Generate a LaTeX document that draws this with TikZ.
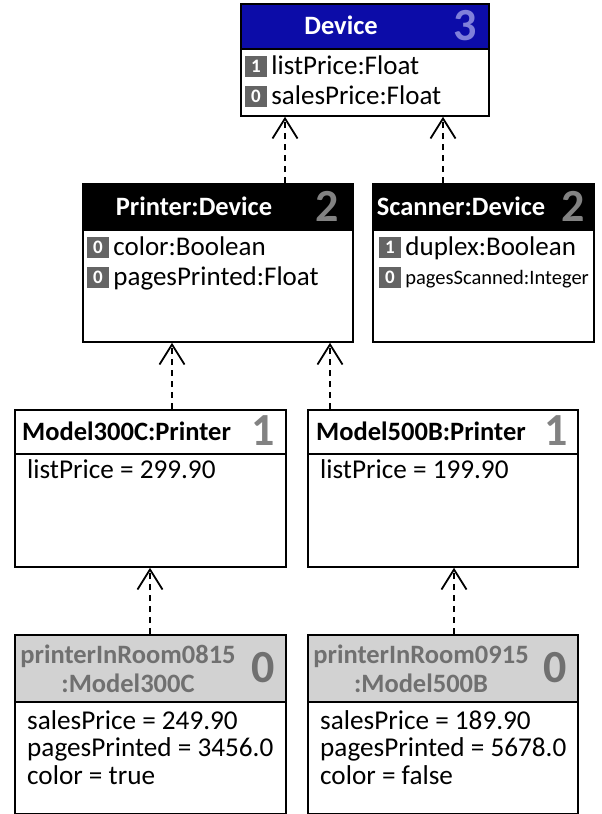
\documentclass[tikz,border=0pt]{standalone}
\usepackage{fontspec}
\setmainfont{Carlito}
\usetikzlibrary{arrows.meta,positioning}

\definecolor{devblue}{RGB}{12,12,168}
\definecolor{devlevel}{RGB}{128,128,218}
\definecolor{lvlgray}{RGB}{130,130,130}
\definecolor{instfill}{RGB}{210,210,210}
\definecolor{insttext}{RGB}{112,112,112}
\definecolor{badgegray}{RGB}{100,100,100}

\newcommand{\rowfont}{\fontsize{27}{29}\selectfont}
\newcommand{\valfont}{\fontsize{27.2}{29}\selectfont}
\newcommand{\lvlfont}{\fontsize{46}{46}\selectfont\bfseries}

\begin{document}
\begin{tikzpicture}[x=1pt,y=-1pt,
	box/.style={draw,line width=1.8pt,anchor=north west,inner sep=0pt},
	title/.style={font=\fontsize{26.5}{29}\selectfont\bfseries,inner sep=0pt,align=center},
	level/.style={font=\lvlfont,inner sep=0pt},
	badge/.style={fill=badgegray,text=white,font=\fontsize{19}{19}\selectfont\bfseries,
		minimum width=22pt,minimum height=21pt,inner sep=0pt},
	row/.style={font=\rowfont,inner sep=0pt,anchor=west,text height=19pt,text depth=3pt},
	val/.style={font=\valfont,inner sep=0pt,anchor=west,text height=19pt,text depth=3pt},
	realize/.style={line width=1.8pt,dash pattern=on 6pt off 5pt,
		-{Straight Barb[length=20pt,width=25pt]}}]
	\useasboundingbox (0,0) rectangle (602,814);

	% Device
	\node[box,fill=devblue,minimum width=248pt,minimum height=45pt] (devH) at (240,3) {};
	\node[box,minimum width=248pt,minimum height=67pt] (devB) at (240,48) {};
	\node[title,text=white] (devT) at (341,25.5) {Device};
	\node[level,text=devlevel] (devN) at (465,25.5) {3};
	\node[badge] (devA1) at (256,66) {1};
	\node[row,right=4pt of devA1] (devR1) {listPrice:Float};
	\node[badge] (devA2) at (256,96) {0};
	\node[row,right=4pt of devA2] (devR2) {salesPrice:Float};

	% Printer
	\node[box,fill=black,minimum width=270pt,minimum height=46pt] (prnH) at (82,183) {};
	\node[box,minimum width=270pt,minimum height=112pt] (prnB) at (82,229) {};
	\node[title,text=white] (prnT) at (194,206) {Printer:Device};
	\node[level,text=lvlgray] (prnN) at (327,206) {2};
	\node[badge] (prnA1) at (98,247) {0};
	\node[row,right=4pt of prnA1] (prnR1) {color:Boolean};
	\node[badge] (prnA2) at (98,277) {0};
	\node[row,right=4pt of prnA2] (prnR2) {pagesPrinted:Float};

	% Scanner
	\node[box,fill=black,minimum width=221pt,minimum height=46pt] (scnH) at (372,183) {};
	\node[box,minimum width=221pt,minimum height=112pt] (scnB) at (372,229) {};
	\node[title,text=white] (scnT) at (461,206) {Scanner:Device};
	\node[level,text=lvlgray] (scnN) at (573,206) {2};
	\node[badge] (scnA1) at (390,247) {1};
	\node[row,right=4pt of scnA1] (scnR1) {duplex:Boolean};
	\node[badge] (scnA2) at (390,277) {0};
	\node[row,right=4pt of scnA2,font=\fontsize{20.5}{24}\selectfont,text height=16pt,text depth=2pt] (scnR2) {pagesScanned:Integer};

	% Model300C
	\node[box,minimum width=271pt,minimum height=44pt] (m300H) at (14,409) {};
	\node[box,minimum width=271pt,minimum height=113pt] (m300B) at (14,453) {};
	\node[title,anchor=west] (m300T) at (22,431) {Model300C:Printer};
	\node[level,text=lvlgray] (m300N) at (263,431) {1};
	\node[val] (m300R1) at (27,470) {listPrice = 299.90};

	% Model500B
	\node[box,minimum width=270pt,minimum height=44pt] (m500H) at (307,409) {};
	\node[box,minimum width=270pt,minimum height=113pt] (m500B) at (307,453) {};
	\node[title,anchor=west] (m500T) at (316,431) {Model500B:Printer};
	\node[level,text=lvlgray] (m500N) at (556,431) {1};
	\node[val] (m500R1) at (320,470) {listPrice = 199.90};

	% printerInRoom0815
	\node[box,fill=instfill,minimum width=271pt,minimum height=67pt] (i815H) at (14,634) {};
	\node[box,minimum width=271pt,minimum height=112pt] (i815B) at (14,701) {};
	\node[title,text=insttext] (i815T) at (128,669) {printerInRoom0815\\:Model300C};
	\node[level,text=insttext] (i815N) at (263,668) {0};
	\node[val] (i815R1) at (27,721) {salesPrice = 249.90};
	\node[val] (i815R2) at (27,748) {pagesPrinted = 3456.0};
	\node[val] (i815R3) at (27,776) {color = true};

	% printerInRoom0915
	\node[box,fill=instfill,minimum width=270pt,minimum height=67pt] (i915H) at (307,634) {};
	\node[box,minimum width=270pt,minimum height=112pt] (i915B) at (307,701) {};
	\node[title,text=insttext] (i915T) at (421,669) {printerInRoom0915\\:Model500B};
	\node[level,text=insttext] (i915N) at (555,668) {0};
	\node[val] (i915R1) at (320,721) {salesPrice = 189.90};
	\node[val] (i915R2) at (320,748) {pagesPrinted = 5678.0};
	\node[val] (i915R3) at (320,776) {color = false};

	% realizations
	\draw[realize] (prnH.north -| 285,0) -- (devB.south -| 285,0);
	\draw[realize] (scnH.north -| 443,0) -- (devB.south -| 443,0);
	\draw[realize] (m300H.north -| 172,0) -- (prnB.south -| 172,0);
	\draw[realize] (m500H.north -| 330,0) -- (prnB.south -| 330,0);
	\draw[realize] (i815H.north -| 150,0) -- (m300B.south -| 150,0);
	\draw[realize] (i915H.north -| 454,0) -- (m500B.south -| 454,0);
\end{tikzpicture}
\end{document}
